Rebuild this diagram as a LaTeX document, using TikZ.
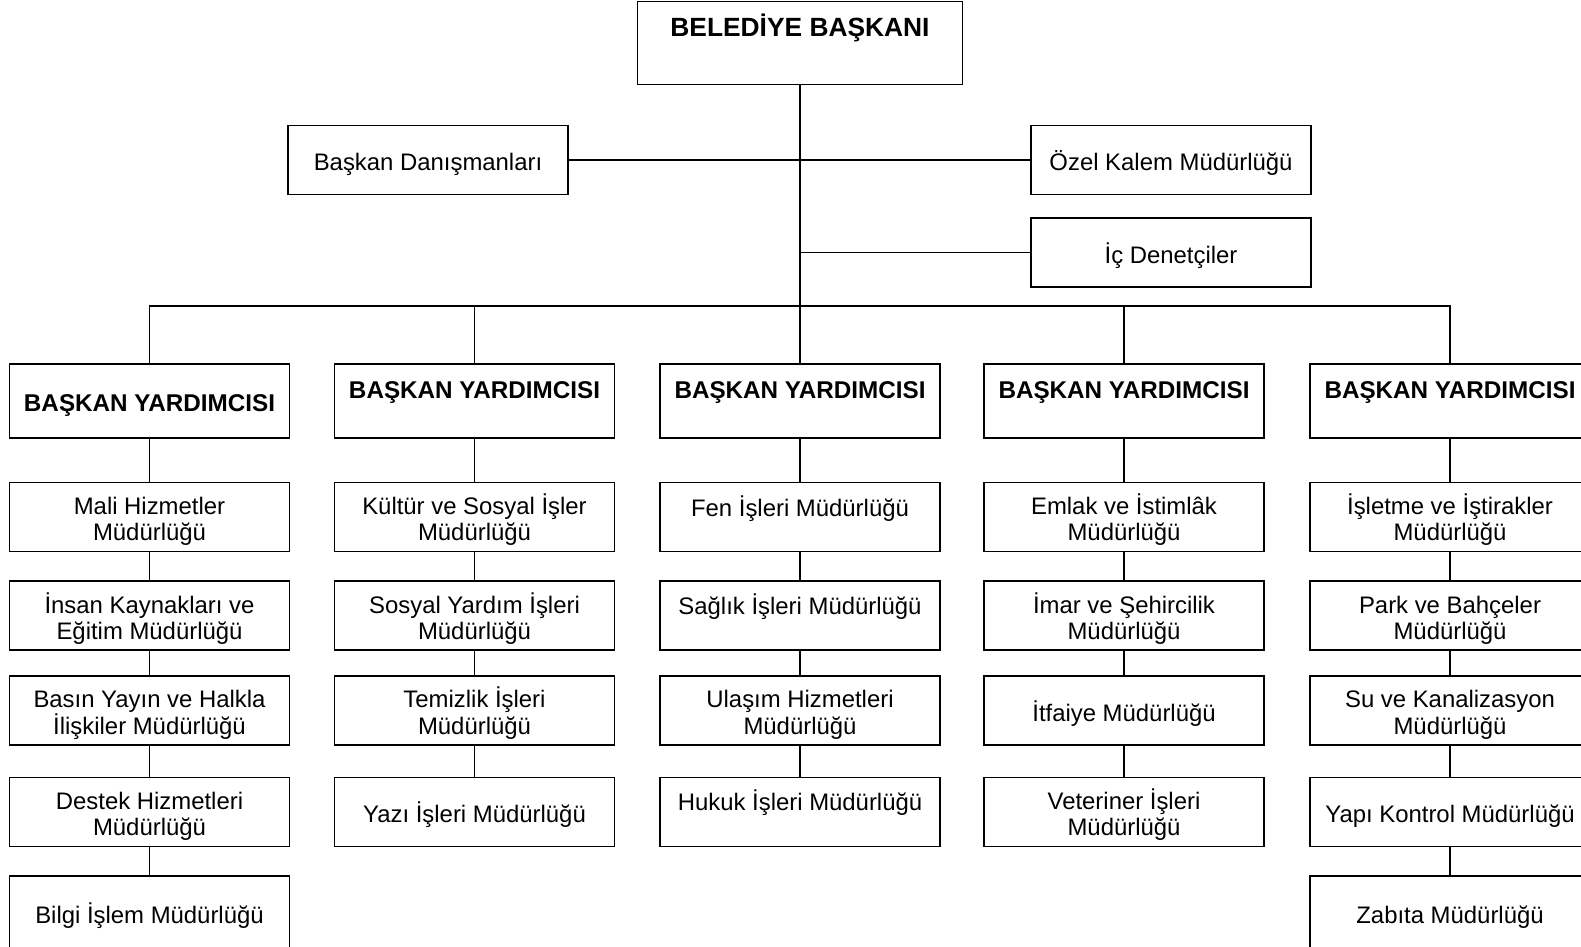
\documentclass[tikz,border=0pt]{standalone}
\usepackage{fontspec}
\setmainfont{Liberation Sans}
\usetikzlibrary{positioning}
\tikzset{
  unitbox/.style = {draw, line width=0.95pt, minimum width=5.6cm, minimum height=1.38cm,
                    align=center, inner sep=2pt, text height=12.8pt, text depth=0.5pt,
                    font=\fontsize{13.6}{15}\selectfont},
  headbox/.style = {unitbox, minimum height=1.48cm, font=\fontsize{13.8}{15}\selectfont\bfseries},
  twoline/.style = {text height=27pt, text depth=0pt},
  raised/.style  = {text height=11pt, text depth=#1},
  raised/.default = 14pt,
  link/.style    = {line width=0.95pt},
}
\begin{document}
\begin{tikzpicture}[x=0.02cm,y=-0.02cm,node distance=0.56cm]
    \useasboundingbox (0,0) rectangle (1581,946);
    \clip (0,0) rectangle (1581,946);
    % top level
    \node[headbox,raised=18pt,minimum width=6.5cm,minimum height=1.66cm,
          font=\fontsize{15}{16}\selectfont\bfseries] (baskan) at (800,43) {BELEDİYE BAŞKANI};
    \node[unitbox] (danisman) at (428,160) {Başkan Danışmanları};
    \node[unitbox] (kalem) at (1171,160) {Özel Kalem Müdürlüğü};
    \node[unitbox,below=0.44cm of kalem] (denetci) {İç Denetçiler};
    \coordinate (bus) at (800,306);
    % vice presidents
    \node[headbox] (vp1) at (149.5,401) {BAŞKAN YARDIMCISI};
    \node[headbox,raised=14.4pt] (vp2) at (474.5,401) {BAŞKAN YARDIMCISI};
    \node[headbox,raised=14.4pt] (vp3) at (800,401) {BAŞKAN YARDIMCISI};
    \node[headbox,raised=14.4pt] (vp4) at (1124,401) {BAŞKAN YARDIMCISI};
    \node[headbox,raised=14.4pt] (vp5) at (1450,401) {BAŞKAN YARDIMCISI};
    % column 1
    \node[unitbox,twoline,below=0.86cm of vp1] (m11) {Mali Hizmetler\\Müdürlüğü};
    \node[unitbox,twoline,below=of m11] (m12) {İnsan Kaynakları ve\\Eğitim Müdürlüğü};
    \node[unitbox,twoline,below=0.48cm of m12] (m13) {Basın Yayın ve Halkla\\İlişkiler Müdürlüğü};
    \node[unitbox,twoline,below=0.62cm of m13] (m14) {Destek Hizmetleri\\Müdürlüğü};
    \node[unitbox,minimum height=1.44cm,below=0.56cm of m14] (m15) {Bilgi İşlem Müdürlüğü};
    % column 2
    \node[unitbox,twoline,below=0.86cm of vp2] (m21) {Kültür ve Sosyal İşler\\Müdürlüğü};
    \node[unitbox,twoline,below=of m21] (m22) {Sosyal Yardım İşleri\\Müdürlüğü};
    \node[unitbox,twoline,below=0.48cm of m22] (m23) {Temizlik İşleri\\Müdürlüğü};
    \node[unitbox,below=0.62cm of m23] (m24) {Yazı İşleri Müdürlüğü};
    % column 3
    \node[unitbox,raised=11.7pt,below=0.86cm of vp3] (m31) {Fen İşleri Müdürlüğü};
    \node[unitbox,raised=12.7pt,below=of m31] (m32) {Sağlık İşleri Müdürlüğü};
    \node[unitbox,twoline,below=0.48cm of m32] (m33) {Ulaşım Hizmetleri\\Müdürlüğü};
    \node[unitbox,raised=12.4pt,below=0.62cm of m33] (m34) {Hukuk İşleri Müdürlüğü};
    % column 4
    \node[unitbox,twoline,below=0.86cm of vp4] (m41) {Emlak ve İstimlâk\\Müdürlüğü};
    \node[unitbox,twoline,below=of m41] (m42) {İmar ve Şehircilik\\Müdürlüğü};
    \node[unitbox,below=0.48cm of m42] (m43) {İtfaiye Müdürlüğü};
    \node[unitbox,twoline,below=0.62cm of m43] (m44) {Veteriner İşleri\\Müdürlüğü};
    % column 5
    \node[unitbox,twoline,below=0.86cm of vp5] (m51) {İşletme ve İştirakler\\Müdürlüğü};
    \node[unitbox,twoline,below=of m51] (m52) {Park ve Bahçeler\\Müdürlüğü};
    \node[unitbox,twoline,below=0.48cm of m52] (m53) {Su ve Kanalizasyon\\Müdürlüğü};
    \node[unitbox,below=0.62cm of m53] (m54) {Yapı Kontrol Müdürlüğü};
    \node[unitbox,minimum height=1.44cm,below=0.56cm of m54] (m55) {Zabıta Müdürlüğü};
    % connectors
    \draw[link] (baskan) -- (baskan.south |- bus);
    \draw[link] (danisman) -- (kalem);
    \draw[link] (denetci) -- (denetci.west -| baskan.south);
    \draw[link] (vp1) |- (bus) -| (vp5);
    \foreach \v in {vp2,vp3,vp4}
      \draw[link] (\v) -- (\v |- bus);
    \foreach \a/\b in {vp1/m11,m11/m12,m12/m13,m13/m14,m14/m15,
                       vp2/m21,m21/m22,m22/m23,m23/m24,
                       vp3/m31,m31/m32,m32/m33,m33/m34,
                       vp4/m41,m41/m42,m42/m43,m43/m44,
                       vp5/m51,m51/m52,m52/m53,m53/m54,m54/m55}
      \draw[link] (\a) -- (\b);
\end{tikzpicture}
\end{document}
